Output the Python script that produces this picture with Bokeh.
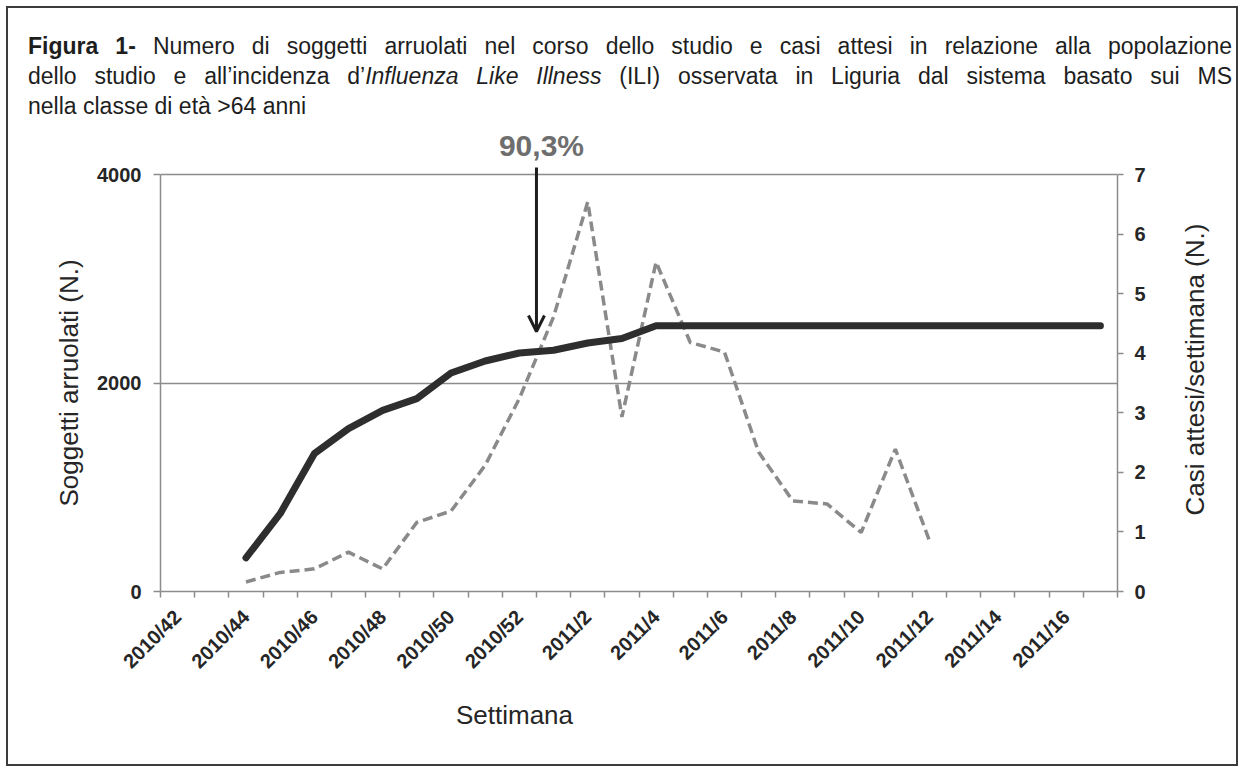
import math
import html
from bokeh.plotting import figure
from bokeh.layouts import column
from bokeh.models import Range1d, LinearAxis, FixedTicker, Label, Arrow, OpenHead, Title, Div
from bokeh.embed import file_html
from bokeh.resources import INLINE

# ---------------- data ----------------
weeks = ["2010/42", "2010/43", "2010/44", "2010/45", "2010/46", "2010/47", "2010/48",
         "2010/49", "2010/50", "2010/51", "2010/52", "2011/1", "2011/2", "2011/3",
         "2011/4", "2011/5", "2011/6", "2011/7", "2011/8", "2011/9", "2011/10",
         "2011/11", "2011/12", "2011/13", "2011/14", "2011/15", "2011/16", "2011/17"]
tick_labels = ["2010/42", "2010/44", "2010/46", "2010/48", "2010/50", "2010/52", "2011/2",
               "2011/4", "2011/6", "2011/8", "2011/10", "2011/12", "2011/14", "2011/16"]

soggetti_start = "2010/44"
soggetti = [323, 746, 1322, 1562, 1738, 1850, 2096, 2211, 2288, 2314, 2384, 2426,
            2550, 2550, 2550, 2550, 2550, 2550, 2550, 2550, 2550, 2550, 2550, 2550, 2550, 2550]

casi_start = "2010/44"
casi = [0.16, 0.32, 0.38, 0.66, 0.38, 1.16, 1.35, 2.12, 3.24, 4.61, 6.54, 2.93, 5.53,
        4.18, 4.02, 2.34, 1.52, 1.47, 0.99, 2.39, 0.85]

left_ticks = [0, 2000, 4000]
right_ticks = [0, 1, 2, 3, 4, 5, 6, 7]
arrow_week_boundary = "2011/1"   # arrow sits on the boundary before this week
arrow_label = "90,3%"

title_bold = "Figura 1-"
title_l1 = "Numero di soggetti arruolati nel corso dello studio e casi attesi in relazione alla popolazione"
title_l2a = "dello studio e all\u2019incidenza d\u2019"
title_l2i = "Influenza Like Illness"
title_l2b = "(ILI) osservata in Liguria dal sistema basato sui MS"
title_l3 = "nella classe di et\u00e0 >64 anni"
x_title = "Settimana"
yl_title = "Soggetti arruolati (N.)"
yr_title = "Casi attesi/settimana (N.)"

# ---------------- layout ----------------
FONT = "Liberation Sans"
W, H = 1244, 772
DIV_H = 125                       # header block height
FR_L, FR_R, FR_T, FR_B = 160, 1117, 174, 591   # chart area (page px), FR_T = 4000 line
n = len(weeks)
ppx = (FR_R - FR_L) / n
ppy = (FR_B - FR_T) / 4000.0
y_end = 4000 + (FR_T - DIV_H) / ppy
r_end = 7 * y_end / 4000.0
ppy_r = (FR_B - FR_T) / 7.0
FIG_H = H - DIV_H
GRAY = "#8c8c8c"
TXT = "#262626"
AX_TITLE = 26

REG = {' ': 278, '(': 333, ')': 333, '.': 278, '/': 278, 'C': 722, 'N': 722, 'S': 667,
       'a': 556, 'e': 556, 'g': 556, 'i': 222, 'l': 222, 'm': 833, 'n': 556, 'o': 556,
       'r': 333, 's': 500, 't': 278, 'u': 556}


def tw(s, size):
    return sum(REG.get(c, 556) for c in s) * size / 1000.0


def px_y(py):
    return (FR_B - py) / ppy


# ---------------- figure ----------------
p = figure(width=W, height=FIG_H, x_range=Range1d(0, n), y_range=Range1d(0, y_end),
           output_backend="svg", toolbar_location=None,
           min_border_left=FR_L, min_border_right=W - FR_R,
           min_border_top=0, min_border_bottom=FIG_H - (FR_B - DIV_H),
           background_fill_color=None, border_fill_color=None)
p.outline_line_color = None

# x axis
xa = p.xaxis[0]
xa.ticker = FixedTicker(ticks=[weeks.index(t) + 0.5 for t in tick_labels],
                        minor_ticks=list(range(n + 1)))
xa.major_label_overrides = {weeks.index(t) + 0.5: t for t in tick_labels}
xa.major_label_orientation = math.pi / 4
xa.major_tick_line_color = None
xa.major_tick_out = 6
xa.major_tick_in = 0
xa.major_label_standoff = 16
xa.minor_tick_line_color = GRAY
xa.minor_tick_line_width = 1.5
xa.minor_tick_out = 6
xa.minor_tick_in = 0
xa.axis_line_color = GRAY
xa.axis_line_width = 1.5
xa.major_label_text_font = FONT
xa.major_label_text_font_size = "20px"
xa.major_label_text_font_style = "bold"
xa.major_label_text_color = TXT
p.xgrid.visible = False

# left axis
ya = p.yaxis[0]
ya.ticker = FixedTicker(ticks=left_ticks)
ya.bounds = (0, 4000)
ya.axis_line_color = GRAY
ya.axis_line_width = 1.5
ya.major_tick_line_color = GRAY
ya.major_tick_line_width = 1.5
ya.major_tick_out = 7
ya.major_tick_in = 0
ya.minor_tick_line_color = None
ya.major_label_standoff = 12
ya.major_label_text_font = FONT
ya.major_label_text_font_size = "20px"
ya.major_label_text_font_style = "bold"
ya.major_label_text_color = TXT
p.ygrid.ticker = FixedTicker(ticks=left_ticks)
p.ygrid.grid_line_color = GRAY
p.ygrid.grid_line_width = 1.5

# left axis title (reads upwards, centred on the 0-4000 span)
yl_center = (FR_T + FR_B) / 2.0
p.add_layout(Title(text=yl_title, align="left",
                   offset=FR_B - (yl_center + tw(yl_title, AX_TITLE) / 2),
                   text_font=FONT, text_font_size=f"{AX_TITLE}px", text_font_style="normal",
                   text_color=TXT, standoff=21), "left")

# right axis
p.extra_y_ranges = {"casi": Range1d(0, r_end)}
ra = LinearAxis(y_range_name="casi", ticker=FixedTicker(ticks=right_ticks))
ra.bounds = (0, 7)
ra.axis_line_color = GRAY
ra.axis_line_width = 1.5
ra.major_tick_line_color = GRAY
ra.major_tick_line_width = 1.5
ra.major_tick_out = 6
ra.major_tick_in = 0
ra.minor_tick_line_color = None
ra.major_label_standoff = 11
ra.major_label_text_font = FONT
ra.major_label_text_font_size = "20px"
ra.major_label_text_font_style = "bold"
ra.major_label_text_color = TXT
p.add_layout(ra, "right")

# right axis title: a label-only axis, text rising from its anchor
yr_center = 369
yr_anchor = round((FR_B - (yr_center + tw(yr_title, AX_TITLE) / 2)) / ppy_r, 3)
rt = LinearAxis(y_range_name="casi", ticker=FixedTicker(ticks=[yr_anchor], minor_ticks=[]))
rt.axis_line_color = None
rt.major_tick_line_color = None
rt.minor_tick_line_color = None
rt.major_tick_out = 0
rt.major_tick_in = 0
rt.major_label_standoff = 47
rt.major_label_overrides = {yr_anchor: yr_title}
rt.major_label_orientation = math.pi / 2
rt.major_label_text_font = FONT
rt.major_label_text_font_size = f"{AX_TITLE}px"
rt.major_label_text_font_style = "normal"
rt.major_label_text_color = TXT
p.add_layout(rt, "right")

# x-axis title placed left of centre, as in the original
p.add_layout(Title(text=x_title, align="left", offset=514 - FR_L - tw(x_title, AX_TITLE) / 2,
                   text_font=FONT, text_font_size=f"{AX_TITLE}px", text_font_style="normal",
                   text_color=TXT, standoff=28), "below")

# ---------------- series ----------------
s0 = weeks.index(soggetti_start)
x_sog = [i + 0.5 for i in range(s0, s0 + len(soggetti))]
c0 = weeks.index(casi_start)
x_casi = [i + 0.5 for i in range(c0, c0 + len(casi))]

p.line(x_casi, casi, y_range_name="casi", line_width=3.5, line_color="#8a8a8a",
       line_dash="10 5")
p.line(x_sog, soggetti, line_width=7, line_color="#2e2e2e",
       line_cap="round", line_join="round")

# arrow and its label
ax = weeks.index(arrow_week_boundary)
p.add_layout(Arrow(end=OpenHead(size=16, line_width=3, line_color="#1e1e1e"),
                   x_start=ax, y_start=px_y(167), x_end=ax, y_end=px_y(331),
                   line_width=3, line_color="#1e1e1e"))
p.add_layout(Label(x=ax, y=px_y(145), x_offset=5, text=arrow_label, text_font=FONT,
                   text_font_size="30px", text_font_style="bold", text_color="#6e6e6e",
                   text_align="center", text_baseline="middle"))

# ---------------- header block (justified text) ----------------
head = (
    f'<div style="position:relative;width:{W}px;height:{DIV_H}px;'
    f'font-family:\'Liberation Sans\',Arial,sans-serif;color:#1e1e1e;">'
    f'<div style="position:absolute;left:28px;top:31px;width:1204px;font-size:23px;line-height:30px;">'
    f'<div style="text-align:justify;text-align-last:justify;"><b>{html.escape(title_bold)}</b> '
    f'{html.escape(title_l1)}</div>'
    f'<div style="text-align:justify;text-align-last:justify;">{html.escape(title_l2a)}'
    f'<i>{html.escape(title_l2i)}</i> {html.escape(title_l2b)}</div>'
    f'<div style="text-align:left;">{html.escape(title_l3)}</div></div>'
    f'</div>'
)
div = Div(text=head, width=W, height=DIV_H, margin=0)

layout = column(div, p, spacing=0,
                styles={"outline": "2px solid #3c3c3c", "outline-offset": "-8px",
                        "background": "white"})

open("out.html", "w").write(file_html(layout, INLINE))
